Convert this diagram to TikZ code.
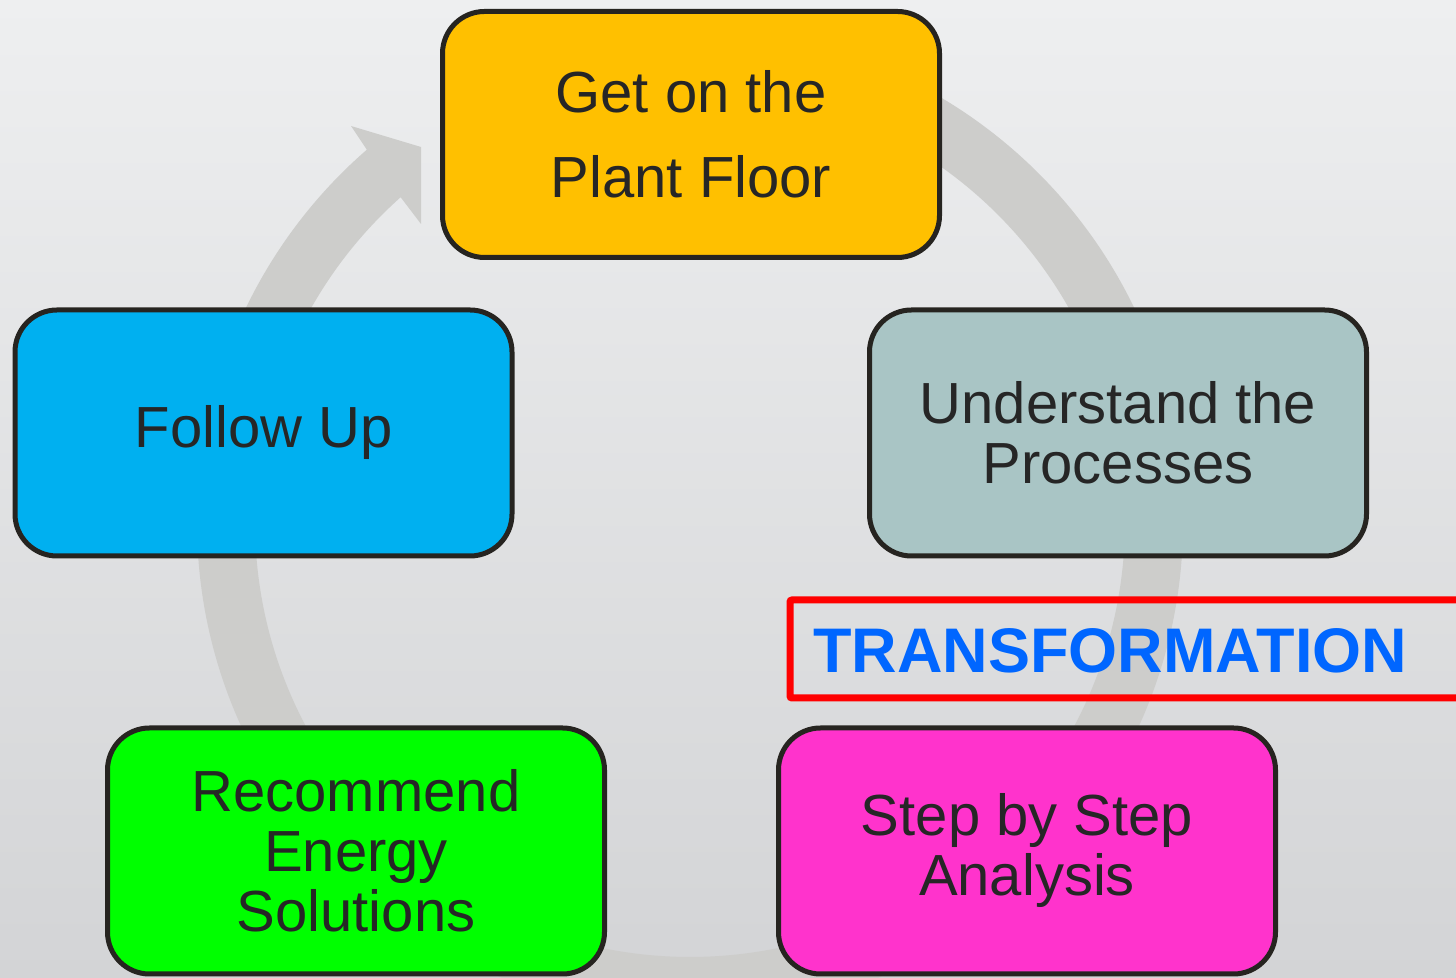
\documentclass[tikz,border=0pt]{standalone}
\usepackage{fontspec}
\setmainfont{Liberation Sans}
\definecolor{bgtop}{HTML}{EEEFF0}
\definecolor{bgbot}{HTML}{D3D4D6}
\definecolor{ringc}{HTML}{CDCDCB}
\definecolor{boxline}{HTML}{262420}
\definecolor{txt}{HTML}{262626}
\definecolor{cyellow}{HTML}{FFC000}
\definecolor{cblue}{HTML}{00B0F0}
\definecolor{cgrey}{HTML}{A9C5C5}
\definecolor{cgreen}{HTML}{00FF00}
\definecolor{cpink}{HTML}{FF33CC}
\definecolor{tblue}{HTML}{0066FF}
\definecolor{tred}{HTML}{FF0000}
\begin{document}
\begin{tikzpicture}[x=0.5pt,y=0.5pt,
  box/.style={draw=boxline, line width=2.5pt, rounded corners=21pt,
    minimum width=248.5pt, minimum height=123pt, inner sep=0pt,
    text=txt, align=center, font=\fontsize{29}{30}\selectfont}]
\useasboundingbox (0,0) rectangle (1456,978);
\clip (0,0) rectangle (1456,978);
\shade[top color=bgtop, bottom color=bgbot] (0,0) rectangle (1456,978);
% ring arrow
\begin{scope}[shift={(690,456)}]
\fill[ringc] (90:493) arc[start angle=90, end angle=-229.04, radius=493]
  -- (-339,396) -- (-269,375) -- (-269,298)
  -- (-228.3:435) arc[start angle=-228.3, end angle=90, radius=435] -- cycle;
\end{scope}
% boxes
\node[box, fill=cyellow, font=\fontsize{29}{42.5}\selectfont] (floor) at (691,843.5) {Get on the\\Plant Floor};
\node[box, fill=cblue] (follow) at (263.5,545) {Follow Up};
\node[box, fill=cgrey] (understand) at (1118,545) {Understand the\\Processes};
\node[box, fill=cgreen] (recommend) at (356,127) {Recommend\\Energy\\Solutions};
\node[box, fill=cpink] (step) at (1027,127) {Step by Step\\Analysis};
% transformation label
\draw[tred, line width=3.5pt, rounded corners=1pt] (790,378) rectangle (1480,280);
\node[anchor=base west, inner sep=0pt, text=tblue, font=\fontsize{31.5}{33}\selectfont\bfseries] (transf) at (813,305) {TRANSFORMATION};
\end{tikzpicture}
\end{document}
